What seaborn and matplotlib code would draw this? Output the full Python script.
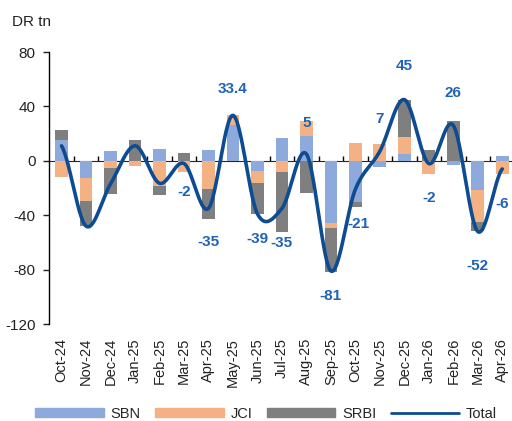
import numpy as np
import pandas as pd
import matplotlib
matplotlib.use('Agg')
import matplotlib.pyplot as plt
from matplotlib.patches import Patch
from matplotlib.lines import Line2D
import seaborn as sns

# data (DR tn)
months = ['Oct-24', 'Nov-24', 'Dec-24', 'Jan-25', 'Feb-25', 'Mar-25', 'Apr-25', 'May-25',
          'Jun-25', 'Jul-25', 'Aug-25', 'Sep-25', 'Oct-25', 'Nov-25', 'Dec-25', 'Jan-26',
          'Feb-26', 'Mar-26', 'Apr-26']
sbn = [15, -13, 7, 0, 8.6, 0, 7.6, 26.6, -7.6, 17.1, 18.1, -45.7, -30.1, -4.9, 5.1, 0, -3.2, -21.5, 3.7]
jci = [-11.7, -16.6, -5, -4, -18.3, -8.3, -20.8, 6.8, -8.5, -8.5, 11, -3.9, 13, 12.2, 12.2, -10, 0, -23.7, -9.8]
srbi = [7.6, -18.6, -19.3, 15.4, -6.8, 5.9, -22, 0, -22.9, -43.6, -23.7, -31.8, -3.7, 0, 27.7, 7.6, 28.9, -6.6, 0]
total = [11, -48, -17, 11, -16.5, -2, -35, 33.4, -39, -35, 5, -81, -21, 7, 45, -2, 26, -52, -6]
total_labels = ['', '', '', '', '', '-2', '-35', '33.4', '-39', '-35', '5', '-81', '-21', '7',
                '45', '-2', '26', '-52', '-6']

# where the labels sit (y in data units, x shift in categories)
lab_y = [0, 0, 0, 0, 0, -23, -60, 52.5, -57.5, -60.5, 28, -99.5, -46.5, 31, 69.5, -27.5, 50, -77.5, -32]
lab_dx = [0, 0, 0, 0, 0, 0, 0, 0, 0, 0, 0, 0, 0.12, 0, 0, 0, 0, 0, 0]

c_sbn = '#8EA9DB'
c_jci = '#F4B183'
c_srbi = '#7F7F7F'
c_line = '#0E4C92'
c_lab = '#1F63B5'

sns.set_style('white')
plt.rcParams['font.family'] = ['Liberation Sans', 'DejaVu Sans']

df = pd.DataFrame({'month': months, 'SBN': sbn, 'JCI': jci, 'SRBI': srbi})

fig = plt.figure(figsize=(5.12, 4.21), dpi=100)
ax = fig.add_axes([49.3 / 512, 1 - 324 / 421, (514.5 - 49.3) / 512, (324 - 52) / 421])

# stack positives up and negatives down, in order SBN, JCI, SRBI
pos = np.zeros(len(months))
neg = np.zeros(len(months))
for col, colr in [('SBN', c_sbn), ('JCI', c_jci), ('SRBI', c_srbi)]:
    v = df[col].to_numpy(dtype=float)
    bottom = np.where(v >= 0, pos, neg)
    sns.barplot(x='month', y=col, data=df, color=colr, width=0.52, bottom=bottom,
                saturation=1, ax=ax, linewidth=0)
    pos = pos + np.clip(v, 0, None)
    neg = neg + np.clip(v, None, 0)

# smoothed total line (catmull-rom, like excel's smoothed line)
p = np.array(total, dtype=float)
pp = np.concatenate([[p[0]], p, [p[-1]]])
xs, ys = [], []
for i in range(len(p) - 1):
    p0, p1, p2, p3 = pp[i], pp[i + 1], pp[i + 2], pp[i + 3]
    m1 = (p2 - p0) / 2
    m2 = (p3 - p1) / 2
    t = np.linspace(0, 1, 30)
    h00 = 2 * t**3 - 3 * t**2 + 1
    h10 = t**3 - 2 * t**2 + t
    h01 = -2 * t**3 + 3 * t**2
    h11 = t**3 - t**2
    xs.extend(i + t)
    ys.extend(h00 * p1 + h10 * m1 + h01 * p2 + h11 * m2)
sns.lineplot(x=xs, y=ys, sort=False, estimator=None, color=c_line, linewidth=2.6, ax=ax)

for i, lab in enumerate(total_labels):
    if lab:
        ax.text(i + lab_dx[i], lab_y[i], lab, ha='center', va='center', color=c_lab,
                fontsize=11, fontweight='bold')

ax.set_xlim(-0.5, 18.5)
ax.set_ylim(-120, 80)
ax.set_yticks([-120, -80, -40, 0, 40, 80])
ax.set_yticklabels(['-120', '-80', '-40', '0', '40', '80'])
ax.set_xticks(range(len(months)))
ax.set_xticklabels(months, rotation=90)
ax.tick_params(axis='x', length=0, labelsize=10.5, colors='#222222', pad=10)
ax.tick_params(axis='y', length=4, width=1, direction='out', labelsize=11, colors='#222222', pad=6, left=True)
ax.set_xlabel('')
ax.set_ylabel('')
for s in ['top', 'right', 'bottom']:
    ax.spines[s].set_visible(False)
ax.spines['left'].set_color('black')
ax.spines['left'].set_linewidth(1)

# zero line with tick marks between the months
zero = ax.secondary_xaxis(120 / 200)
zero.set_xticks(np.arange(0.5, len(months) - 1, 1))
zero.set_xticklabels([])
zero.tick_params(axis='x', length=3.5, width=1, direction='out', color='black')
zero.spines['bottom'].set_color('black')
zero.spines['bottom'].set_linewidth(1)

fig.text(12 / 512, 1 - 22 / 421, 'DR tn', fontsize=11, color='#222222', va='center')

handles = [Patch(color=c_sbn, label='SBN'), Patch(color=c_jci, label='JCI'),
           Patch(color=c_srbi, label='SRBI'), Line2D([], [], color=c_line, linewidth=2, label='Total')]
fig.legend(handles=handles, loc='center', bbox_to_anchor=(0.52, 1 - 414 / 421), ncol=4,
           frameon=False, fontsize=10.5, handlelength=4.7, handleheight=0.6,
           columnspacing=1.0, handletextpad=0.45)

fig.savefig('out.png', dpi=100)
